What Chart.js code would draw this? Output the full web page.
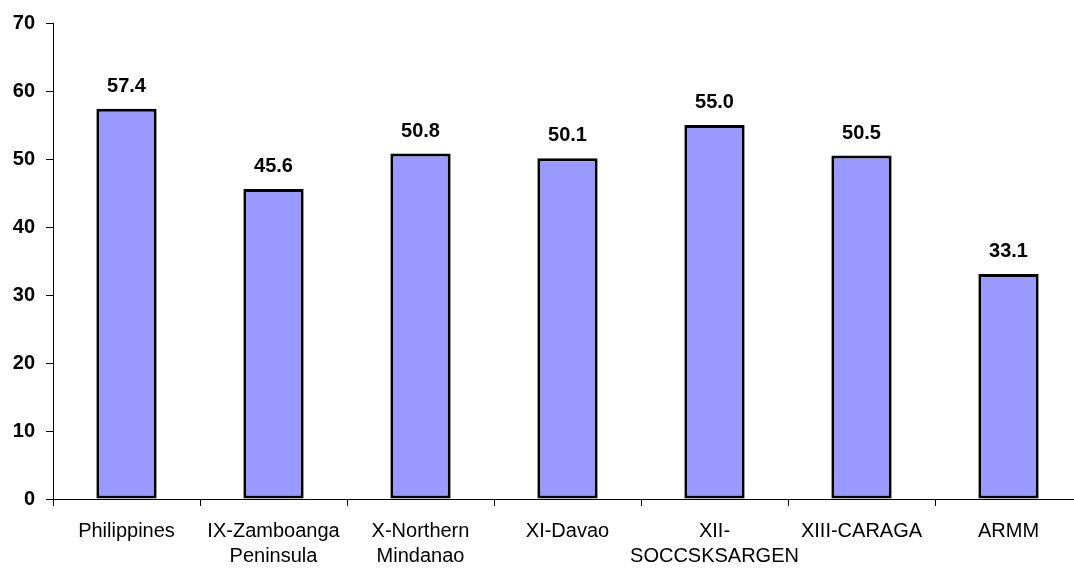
<!DOCTYPE html>
<html>
<head>
<meta charset="utf-8">
<script src="https://cdn.jsdelivr.net/npm/chart.js@4/dist/chart.umd.min.js"></script>
<style>
    html, body { margin: 0; padding: 0; background: #fff; overflow: hidden; }
    #wrap { position: relative; width: 1090px; height: 569px; }
</style>
</head>
<body>
<div id="wrap"><canvas id="regionChart"></canvas></div>
<script>
// regions and values
var regions = [
    "Philippines",
    ["IX-Zamboanga", "Peninsula"],
    ["X-Northern", "Mindanao"],
    "XI-Davao",
    ["XII-", "SOCCSKSARGEN"],
    "XIII-CARAGA",
    "ARMM",
];
var values = [57.4, 45.6, 50.8, 50.1, 55.0, 50.5, 33.1];
var yTicks = [0, 10, 20, 30, 40, 50, 60, 70];

// value labels above each bar
var barLabels = {
    id: "barLabels",
    afterDatasetsDraw: function (chart) {
        var ctx = chart.ctx;
        var meta = chart.getDatasetMeta(0);
        ctx.save();
        ctx.font = "bold 20px 'Liberation Sans', Arial, sans-serif";
        ctx.fillStyle = "#000";
        ctx.textAlign = "center";
        ctx.textBaseline = "alphabetic";
        meta.data.forEach(function (bar, i) {
            ctx.fillText(values[i].toFixed(1), bar.x, bar.y - 17);
        });
        ctx.restore();
    },
};

var ctxElem = document.getElementById("regionChart");
var regionChart = new Chart(ctxElem, {
    type: "bar",
    data: {
        labels: regions,
        datasets: [
            {
                data: values,
                backgroundColor: "#9999ff",
                borderColor: "#000",
                borderWidth: 3,
                borderSkipped: false,
                barPercentage: 0.41,
                categoryPercentage: 1,
            },
        ],
    },
    options: {
        responsive: true,
        maintainAspectRatio: false,
        animation: false,
        layout: {
            padding: { top: 19, right: 8, left: 0, bottom: 0 },
        },
        scales: {
            x: {
                offset: true,
                grid: {
                    offset: true,
                    drawOnChartArea: false,
                    drawTicks: true,
                    tickLength: 7,
                    color: "#000",
                },
                border: { color: "#000", width: 1 },
                ticks: {
                    color: "#000",
                    padding: 13,
                    maxRotation: 0,
                    autoSkip: false,
                    font: { family: "'Liberation Sans', Arial, sans-serif", size: 20, lineHeight: 1.25 },
                },
                afterFit: function (scale) {
                    scale.height = 70;
                },
            },
            y: {
                min: 0,
                max: 70,
                afterBuildTicks: function (scale) {
                    scale.ticks = yTicks.map(function (v) { return { value: v }; });
                },
                grid: {
                    drawOnChartArea: false,
                    drawTicks: true,
                    tickLength: 7,
                    color: "#000",
                },
                border: { color: "#000", width: 1 },
                ticks: {
                    color: "#000",
                    padding: 11,
                    font: { family: "'Liberation Sans', Arial, sans-serif", size: 20, weight: "bold" },
                },
                afterFit: function (scale) {
                    scale.width = 53;
                },
            },
        },
        plugins: {
            legend: { display: false },
            tooltip: { enabled: false },
        },
    },
    plugins: [barLabels],
});
</script>
</body>
</html>
